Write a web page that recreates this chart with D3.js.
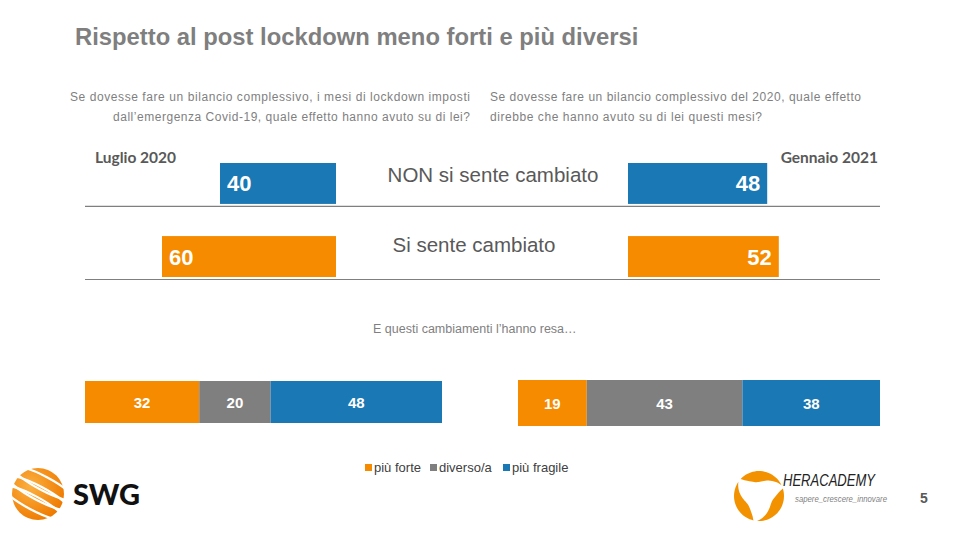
<!DOCTYPE html>
<html><head><meta charset="utf-8">
<script src="https://cdn.jsdelivr.net/npm/d3@7"></script>
<style>body{margin:0;background:#fff}svg{display:block}</style>
</head><body>
<script>
// ---- data ----
const periods = ["Luglio 2020", "Gennaio 2021"];
const topCategories = ["NON si sente cambiato", "Si sente cambiato"];
const topValuesLuglio = [40, 60];
const topValuesGennaio = [48, 52];
const stackCategories = ["più forte", "diverso/a", "più fragile"];
const stackLuglio = [32, 20, 48];
const stackGennaio = [19, 43, 38];
const colors = {"NON si sente cambiato":"#1A78B4","Si sente cambiato":"#F68B00","più forte":"#F68B00","diverso/a":"#7F7F7F","più fragile":"#1A78B4"};

const W=960,H=540;
const svg=d3.select("body").append("svg").attr("width",W).attr("height",H);
const F="Liberation Sans, Arial, sans-serif";

// title
svg.append("text").attr("x",75).attr("y",45).attr("font-family",F).attr("font-weight","bold")
  .attr("font-size",23.8).attr("fill","#7F7F7F").text("Rispetto al post lockdown meno forti e più diversi");

// subtitles
const subL=[["Se dovesse fare un bilancio complessivo, i mesi di lockdown imposti",70,400],
            ["dall’emergenza Covid-19, quale effetto hanno avuto su di lei?",113,357]];
subL.forEach((s,i)=>svg.append("text").attr("x",s[1]).attr("y",101+i*20).attr("font-family",F)
  .attr("font-size",12).attr("fill","#7F7F7F").attr("textLength",s[2]).attr("lengthAdjust","spacing").text(s[0]));
const subR=[["Se dovesse fare un bilancio complessivo del 2020, quale effetto",490,371],
            ["direbbe che hanno avuto su di lei questi mesi?",490,272]];
subR.forEach((s,i)=>svg.append("text").attr("x",s[1]).attr("y",101+i*20).attr("font-family",F)
  .attr("font-size",12).attr("fill","#7F7F7F").attr("textLength",s[2]).attr("lengthAdjust","spacing").text(s[0]));

// period labels
svg.append("text").attr("x",95).attr("y",163).attr("font-family","Lato, sans-serif").attr("font-weight","bold")
  .attr("font-size",15.5).attr("fill","#595959").text(periods[0]);
svg.append("text").attr("x",878).attr("y",163).attr("text-anchor","end").attr("font-family","Lato, sans-serif").attr("font-weight","bold")
  .attr("font-size",15.5).attr("fill","#595959").text(periods[1]);

// top bars
const xTop=d3.scaleLinear().domain([0,100]).range([0,290]);
const yTop=d3.scaleBand().domain(topCategories).range([163,277]).paddingInner(0.44);
const leftEdge=336, rightStart=628;
const gT=svg.append("g");
topCategories.forEach((c,i)=>{
  const y=yTop(c), h=yTop.bandwidth();
  const vl=topValuesLuglio[i], vg=topValuesGennaio[i];
  gT.append("rect").attr("x",leftEdge-xTop(vl)).attr("y",y).attr("width",xTop(vl)).attr("height",h).attr("fill",colors[c]);
  gT.append("text").attr("x",leftEdge-xTop(vl)+7).attr("y",y+h/2+8).attr("font-family",F).attr("font-weight","bold")
    .attr("font-size",22).attr("fill","#fff").text(vl);
  gT.append("rect").attr("x",rightStart).attr("y",y).attr("width",xTop(vg)).attr("height",h).attr("fill",colors[c]);
  gT.append("text").attr("x",rightStart+xTop(vg)-7).attr("y",y+h/2+8).attr("text-anchor","end").attr("font-family",F).attr("font-weight","bold")
    .attr("font-size",22).attr("fill","#fff").text(vg);
  gT.append("text").attr("x",i===0?493:474).attr("y",y+h/2-1+i*(-4)).attr("text-anchor","middle").attr("font-family",F)
    .attr("font-size",20.5).attr("fill","#595959").text(c);
  gT.append("line").attr("x1",85).attr("x2",880).attr("y1",y+h+2.5).attr("y2",y+h+2.5).attr("stroke","#7F7F7F").attr("stroke-width",1.2);
});

// question
svg.append("text").attr("x",373).attr("y",333).attr("font-family",F).attr("font-size",12.5).attr("fill","#7F7F7F")
  .text("E questi cambiamenti l’hanno  resa…");

// stacked bars
function stack(vals,x0,x1,y0,y1){
  const x=d3.scaleLinear().domain([0,d3.sum(vals)]).range([x0,x1]);
  let cum=0;
  const g=svg.append("g");
  vals.forEach((v,i)=>{
    const a=x(cum), b=x(cum+v); cum+=v;
    g.append("rect").attr("x",a).attr("y",y0).attr("width",b-a).attr("height",y1-y0).attr("fill",colors[stackCategories[i]]);
    g.append("text").attr("x",(a+b)/2).attr("y",(y0+y1)/2+5.5).attr("text-anchor","middle").attr("font-family",F)
      .attr("font-weight","bold").attr("font-size",15).attr("fill","#fff").text(v);
  });
}
stack(stackLuglio,85,442,381,423);
stack(stackGennaio,518,880,380,426);

// legend
const legX=[365,430,503];
stackCategories.forEach((c,i)=>{
  svg.append("rect").attr("x",legX[i]).attr("y",464).attr("width",7).attr("height",7).attr("fill",colors[c]);
  svg.append("text").attr("x",legX[i]+9).attr("y",472).attr("font-family",F).attr("font-size",13).attr("fill","#404040").text(c);
});

// SWG logo
const lg=svg.append("g");
const grad=svg.append("defs").append("radialGradient").attr("id","sg").attr("cx","35%").attr("cy","35%").attr("r","70%");
grad.append("stop").attr("offset","0%").attr("stop-color","#FBB040");
grad.append("stop").attr("offset","100%").attr("stop-color","#EF7A00");
lg.append("circle").attr("cx",38).attr("cy",494).attr("r",26).attr("fill","url(#sg)");
[-12,-1,10].forEach(d=>{
  lg.append("ellipse").attr("cx",38).attr("cy",494+d).attr("rx",34).attr("ry",7).attr("fill","none")
    .attr("stroke","#fff").attr("stroke-width",2.2).attr("transform",`rotate(28,38,494)`);
});
lg.append("text").attr("x",73).attr("y",505).attr("font-family","Lato, sans-serif").attr("font-weight",900)
  .attr("font-size",29).attr("fill","#111").text("SWG");

// Heracademy logo: three tapered crescent blades
const hg=svg.append("g").attr("transform","translate(759,496)");
function blade(a0){
  const n=24, span=Math.PI*0.62, R=25, pts=[];
  for(let k=0;k<=n;k++){const t=k/n,a=a0+t*span;pts.push([R*Math.cos(a),R*Math.sin(a)]);}
  for(let k=n;k>=0;k--){const t=k/n,a=a0+t*span,r=R-11*Math.sin(Math.PI*Math.pow(t,0.7));pts.push([r*Math.cos(a),r*Math.sin(a)]);}
  return d3.line()(pts)+"Z";
}
[0,2*Math.PI/3,4*Math.PI/3].forEach(a=>{
  hg.append("path").attr("d",blade(a-0.3)).attr("fill","#F39200");
});
svg.append("text").attr("x",783).attr("y",486).attr("font-family",F).attr("font-style","italic")
  .attr("font-size",16).attr("fill","#222").attr("textLength",92).attr("lengthAdjust","spacingAndGlyphs").text("HERACADEMY");
svg.append("text").attr("x",795).attr("y",502).attr("font-family",F).attr("font-style","italic")
  .attr("font-size",9).attr("fill","#7F7F7F").attr("textLength",92).attr("lengthAdjust","spacingAndGlyphs").text("sapere_crescere_innovare");
svg.append("text").attr("x",920).attr("y",503).attr("font-family",F).attr("font-weight","bold")
  .attr("font-size",14).attr("fill","#595959").text("5");
</script>
</body></html>
